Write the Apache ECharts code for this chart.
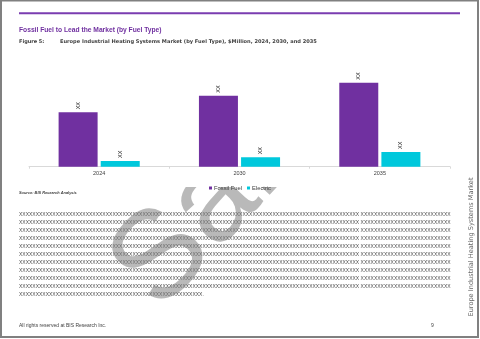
<!DOCTYPE html>
<html><head><meta charset="utf-8">
<script src="https://cdn.jsdelivr.net/npm/echarts@6/dist/echarts.min.js"></script>
<style>html,body{margin:0;padding:0;background:#fff}#c{width:480px;height:339px}</style>
</head><body><div id="c"></div>
<script>
const categories = ['2024', '2030', '2035'];
const seriesNames = ['Fossil Fuel', 'Electric'];
const fossilValues = [54.4, 71, 84];
const electricValues = [5.7, 9.4, 14.7];
const valueLabel = 'XX';
const pageTitle = 'Fossil Fuel to Lead the Market (by Fuel Type)';
const figureNo = 'Figure 5:';
const figureCaption = 'Europe Industrial Heating Systems Market (by Fuel Type), $Million, 2024, 2030, and 2035';
const sourceText = 'Source: BIS Research Analysis';
const footerText = 'All rights reserved at BIS Research Inc.';
const pageNumber = '9';
const sideText = 'Europe Industrial Heating Systems Market';
const watermarkText = 'Sample';

const PURPLE = '#7030A0';
const CYAN = '#00C8DC';

const bodyFont = '5px "Liberation Sans"';
const ctx = document.createElement('canvas').getContext('2d');
ctx.font = bodyFont;
const wX = ctx.measureText('X').width;
function xs(width) { return 'X'.repeat(Math.max(1, Math.floor(width / wX))); }

const graphics = [];
function txt(text, x, y, font, fill, z, extra) {
  return Object.assign({ type: 'text', x: x, y: y, style: { text: text, font: font, fill: fill, textAlign: 'left', align: 'left', textVerticalAlign: 'middle', verticalAlign: 'middle' }, z: z }, extra || {});
}
// body placeholder lines (under the watermark)
for (let i = 0; i < 11; i++) {
  const y = 214.3 + i * 8.07;
  const s = i < 10 ? xs(360.5 - 19) + ' ' + xs(453 - 362.5) : xs(203 - 19) + '.';
  graphics.push(txt(s, 19, y, bodyFont, '#4a4a4a', 0));
}
// watermark
graphics.push({ type: 'text', x: 180, y: 332, rotation: 47 * Math.PI / 180,
  style: { text: watermarkText, font: '125px "Liberation Sans"', fill: 'rgba(128,128,128,0.55)', textAlign: 'left', align: 'left', textVerticalAlign: 'bottom', verticalAlign: 'bottom' }, z: 1 });
// chart/header white box hiding the rest of the watermark
graphics.push({ type: 'rect', shape: { x: 19, y: 0, width: 461, height: 187 }, style: { fill: '#ffffff' }, z: 2 });
// page border
graphics.push({ type: 'rect', shape: { x: 1, y: 0.5, width: 477, height: 336.5 }, style: { fill: 'none', stroke: '#808080', lineWidth: 2 }, z: 3 });
// top line
graphics.push({ type: 'rect', shape: { x: 19, y: 12.3, width: 441, height: 2 }, style: { fill: '#7a3cb0' }, z: 3 });
graphics.push(txt(pageTitle, 19, 30, 'bold 6.7px "Liberation Sans"', PURPLE, 3));
graphics.push(txt(figureNo, 19, 42, 'bold 5px "DejaVu Sans"', '#404040', 3));
graphics.push(txt(figureCaption, 60, 42, 'bold 5.1px "DejaVu Sans"', '#404040', 3));
graphics.push(txt(sourceText, 19, 193.3, 'italic bold 3.9px "Liberation Sans"', '#404040', 3));
graphics.push(txt(footerText, 19, 326, '5px "Liberation Sans"', '#404040', 3));
graphics.push(txt(pageNumber, 431, 326, '5px "Liberation Sans"', '#404040', 3));
const side = txt(sideText, 471, 247, '6.6px "DejaVu Sans"', '#666666', 3, { rotation: Math.PI / 2 });
side.style.textAlign = 'center'; side.style.align = 'center';
graphics.push(side);

const labelCfg = { show: true, position: 'top', rotate: 90, align: 'left', verticalAlign: 'middle', distance: 3, formatter: valueLabel, fontSize: 5.5, color: '#333333', fontFamily: 'Liberation Sans' };

const chart = echarts.init(document.getElementById('c'), null, { renderer: 'canvas' });
chart.setOption({
  animation: false,
  backgroundColor: '#ffffff',
  graphic: { elements: graphics },
  grid: { left: 29, right: 30, top: 66.7, bottom: 172.3, containLabel: false },
  legend: { z: 10, top: 180, left: 'center', icon: 'rect', itemWidth: 3, itemHeight: 3, itemGap: 5,
    textStyle: { fontSize: 5.8, color: '#404040', fontFamily: 'Liberation Sans', padding: [0, 0, 0, -3] }, data: seriesNames },
  xAxis: { type: 'category', z: 10, data: categories, boundaryGap: true,
    axisLine: { lineStyle: { color: '#d9d9d9', width: 1 } },
    axisTick: { show: true, length: 2, lineStyle: { color: '#d9d9d9' } },
    axisLabel: { fontSize: 5.5, color: '#404040', margin: 4, fontFamily: 'Liberation Sans' } },
  yAxis: { type: 'value', min: 0, max: 100, show: false, splitLine: { show: false } },
  series: [
    { name: seriesNames[0], type: 'bar', z: 10, data: fossilValues, barWidth: 39, barGap: '8%', itemStyle: { color: PURPLE }, label: labelCfg },
    { name: seriesNames[1], type: 'bar', z: 10, data: electricValues, barWidth: 39, itemStyle: { color: CYAN }, label: labelCfg }
  ]
});
</script></body></html>
